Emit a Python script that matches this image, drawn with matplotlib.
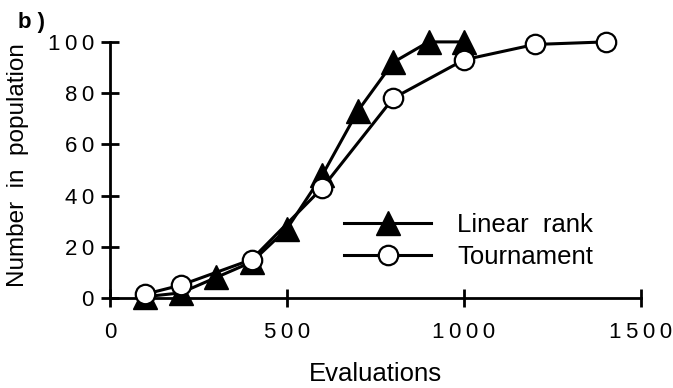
import matplotlib
matplotlib.use("Agg")
import matplotlib.pyplot as plt
from matplotlib.ticker import FuncFormatter

plt.rcParams['font.family'] = ['Liberation Sans', 'DejaVu Sans']

# Selection takeover curves
linear_x = [100, 200, 300, 400, 500, 600, 700, 800, 900, 1000]
linear_y = [0.5, 2, 8, 14, 27, 48, 73, 92, 100, 100]
tourn_x = [100, 200, 400, 600, 800, 1000, 1200, 1400]
tourn_y = [1.5, 5, 15, 43, 78, 93, 99, 100]
x_ticks = [0, 500, 1000, 1500]
y_ticks = [0, 20, 40, 60, 80, 100]

fig = plt.figure(figsize=(6.73, 3.88), dpi=100)
ax = fig.add_axes([0.1634, 0.232, 0.789, 0.660])

ax.plot(linear_x, linear_y, color='black', lw=2.2, marker='^', ms=17,
        mfc='black', mec='black', mew=1.0, clip_on=False, zorder=3,
        label='Linear  rank')
ax.plot(tourn_x, tourn_y, color='black', lw=2.2, marker='o', ms=14,
        mfc='white', mec='black', mew=1.6, clip_on=False, zorder=4,
        label='Tournament')

ax.set_xlim(0, 1500)
ax.set_ylim(0, 100)
ax.set_xticks(x_ticks)
ax.set_yticks(y_ticks)

spaced = FuncFormatter(lambda v, p: '\u2009'.join(str(int(v))))
ax.xaxis.set_major_formatter(spaced)
ax.yaxis.set_major_formatter(spaced)

for s in ['top', 'right']:
    ax.spines[s].set_visible(False)
for s in ['left', 'bottom']:
    ax.spines[s].set_linewidth(2.0)

ax.tick_params(axis='both', direction='inout', length=13, width=2.0,
               labelsize=16, color='black')
ax.tick_params(axis='y', pad=5)
ax.tick_params(axis='x', pad=10.5)

ax.set_xlabel('Evaluations', fontsize=18.5, labelpad=14)
ax.set_ylabel('Number  in  population', fontsize=17.5)
ax.yaxis.set_label_coords(-0.152, 0.52)

fig.text(0.027, 0.928, 'b )', fontsize=16, fontweight='bold')

leg = ax.legend(loc='center left', bbox_to_anchor=(0.44, 0.223), frameon=False,
                fontsize=18.5, handlelength=3.42, handletextpad=1.0,
                labelspacing=0.3, borderaxespad=0, borderpad=0)

fig.savefig('out.png', dpi=100)
